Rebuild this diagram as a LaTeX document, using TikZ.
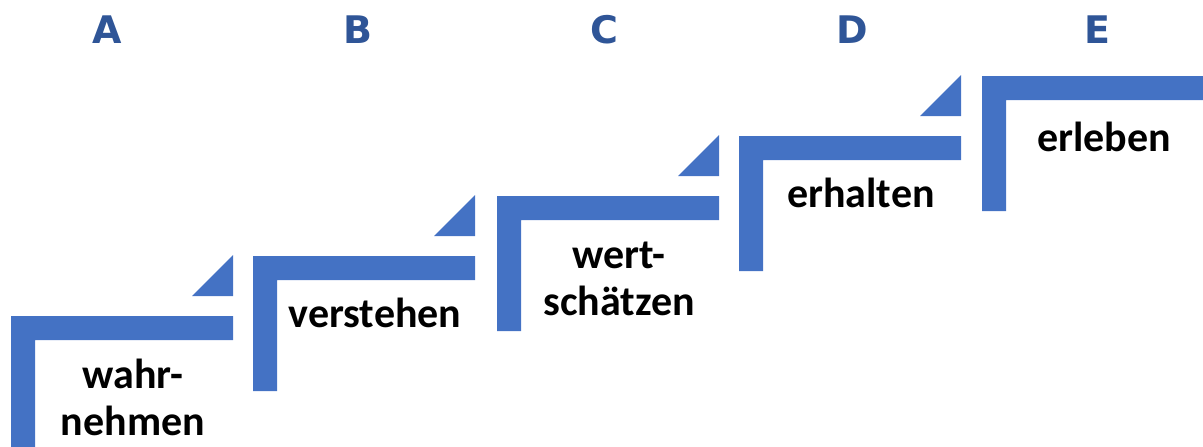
\documentclass[tikz,border=0pt]{standalone}
\usepackage{fontspec}
\setmainfont{Carlito}
\newfontfamily\letterfont{DejaVu Sans}
\definecolor{stepblue}{HTML}{4472C4}
\definecolor{letterblue}{HTML}{2F5597}
\tikzset{
  stair/.style={fill=stepblue, draw=none},
  riser/.style={fill=stepblue, draw=none},
  steplabel/.style={anchor=base, inner sep=0pt, font=\fontsize{42}{47}\selectfont\bfseries, text=black, align=center},
  stageletter/.style={anchor=base, inner sep=0pt, font=\letterfont\fontsize{38}{40}\selectfont\bfseries, text=letterblue}
}
\begin{document}
\begin{tikzpicture}[x=1pt, y=-1pt]
  \useasboundingbox (0,0) rectangle (1203,447);
  % stair treads: left x, top y, arrow triangle (yes/no)
  \foreach \sx/\sy/\tri [count=\i] in {11/316/1, 253/256/1, 497/196/1, 739/136/1, 982/76/0} {
    \fill[stair] (\sx,\sy) -- (\sx+222,\sy) -- (\sx+222,\sy+24) -- (\sx+24,\sy+24)
      -- (\sx+24,\sy+135) -- (\sx,\sy+135) -- cycle;
    \ifnum\tri=1
      \fill[riser] (\sx+181,\sy-20) -- (\sx+222,\sy-20) -- (\sx+222,\sy-61) -- cycle;
    \fi
    \coordinate (s\i) at (\sx+122,\sy);
  }
  % step labels (base anchor = baseline of the last line)
  \node[steplabel] (t1) at ([yshift=-119pt]s1) {wahr-\\nehmen};
  \node[steplabel] (t2) at ([yshift=-71pt]s2) {verstehen};
  \node[steplabel] (t3) at ([yshift=-119pt]s3) {wert-\\schätzen};
  \node[steplabel] (t4) at ([yshift=-71pt]s4) {erhalten};
  \node[steplabel] (t5) at ([yshift=-75pt]s5) {erleben};
  % stage letters
  \node[stageletter] (lA) at (107,43) {A};
  \node[stageletter] (lB) at (358,43) {B};
  \node[stageletter] (lC) at (604,43) {C};
  \node[stageletter] (lD) at (852,43) {D};
  \node[stageletter] (lE) at (1097,43) {E};
\end{tikzpicture}
\end{document}
